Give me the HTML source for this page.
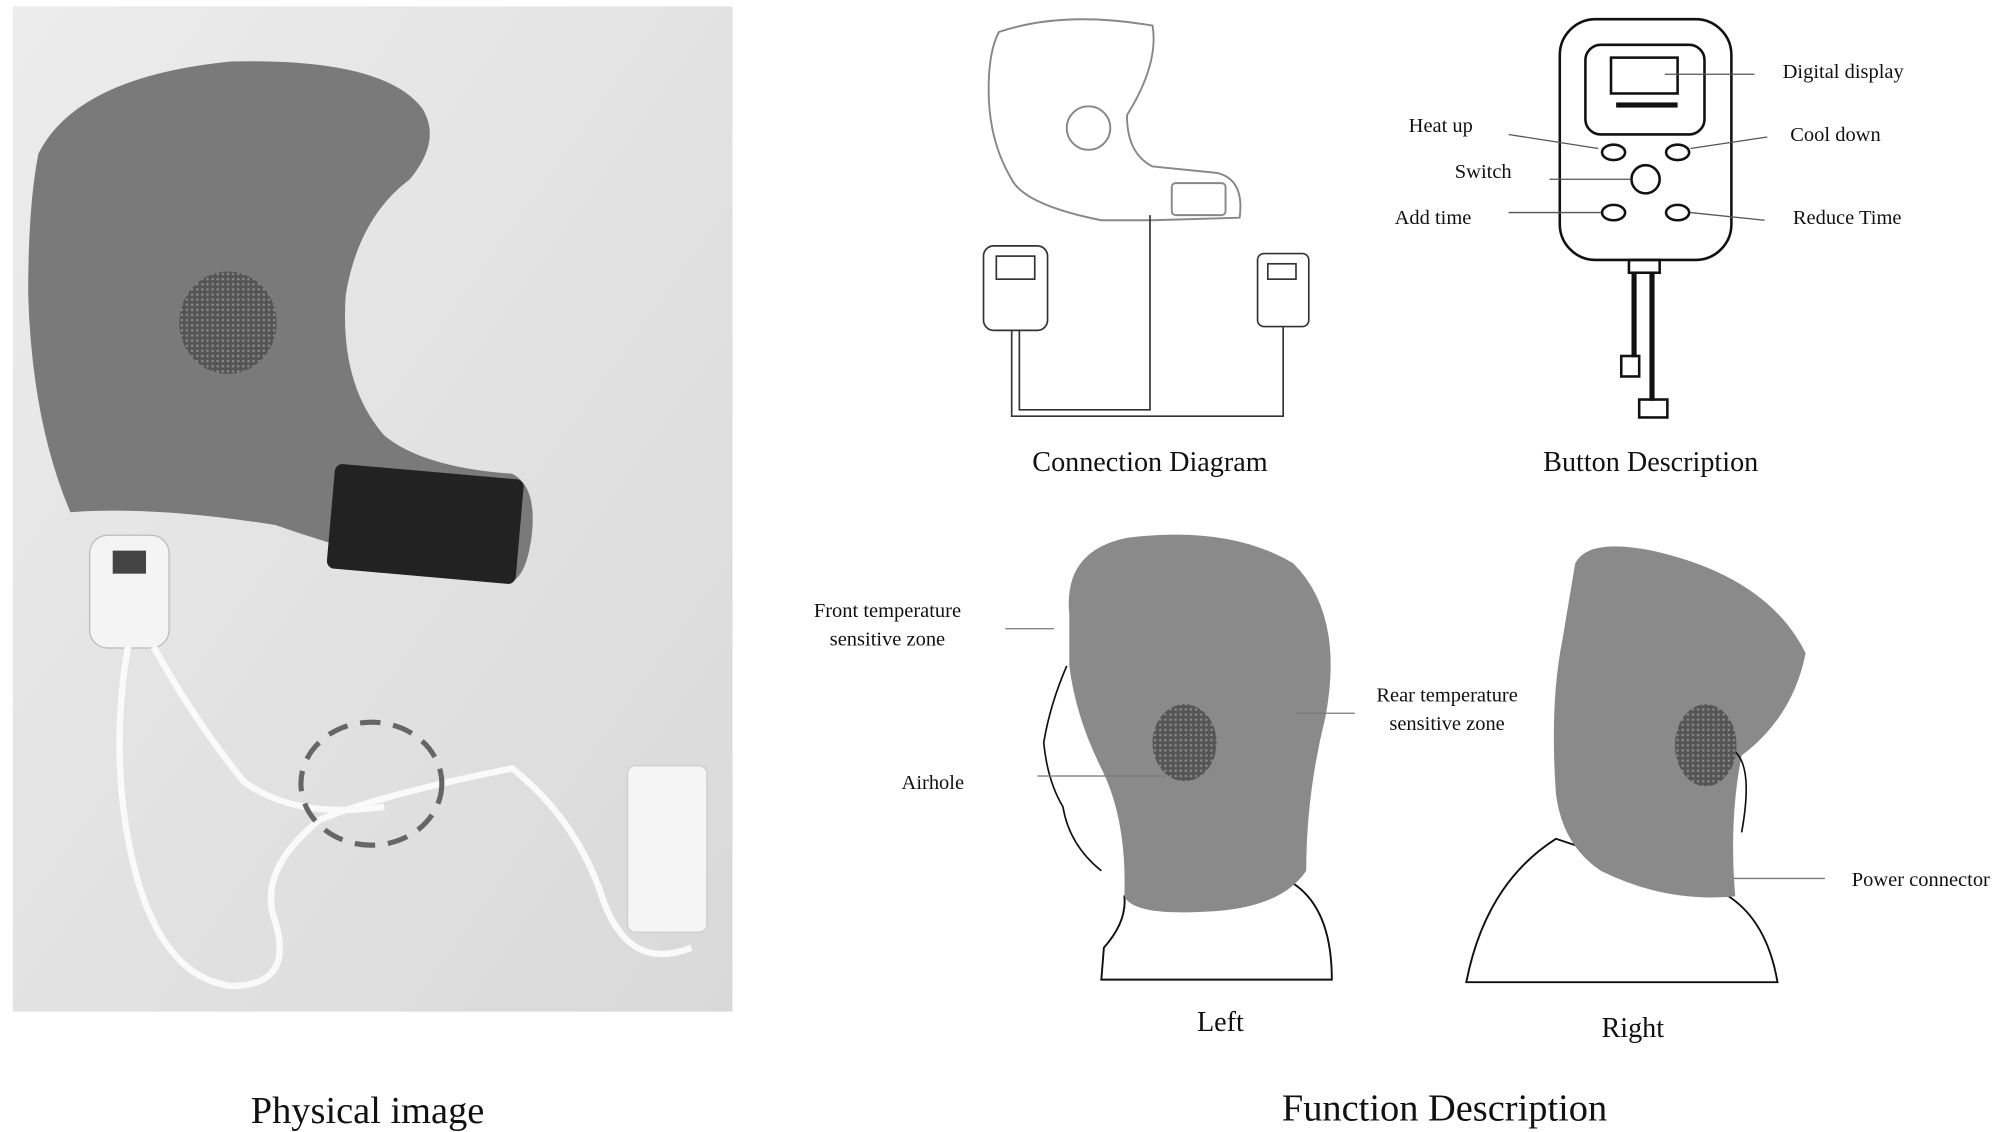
<!DOCTYPE html>
<html><head><meta charset="utf-8"><style>
html,body{margin:0;padding:0;background:#fff;}
svg{display:block}
text{font-family:"Liberation Serif",serif;fill:#111}
</style></head><body>
<svg width="2008" height="1132" viewBox="0 0 1568 884" preserveAspectRatio="none" xmlns="http://www.w3.org/2000/svg">
<defs>
<linearGradient id="bg" x1="0" y1="0" x2="1" y2="1"><stop offset="0" stop-color="#ececec"/><stop offset="1" stop-color="#d9d9d9"/></linearGradient>
<pattern id="mesh" width="4" height="4" patternUnits="userSpaceOnUse"><rect width="4" height="4" fill="#555"/><circle cx="2" cy="2" r="1" fill="#888"/></pattern>
</defs>
<!-- photo -->
<rect x="10" y="5" width="562" height="785" fill="url(#bg)"/>
<path d="M30,120 Q60,60 180,48 Q300,45 330,85 Q345,110 320,140 Q280,170 270,230 Q265,300 300,340 Q330,365 400,370 Q420,380 415,420 Q410,455 395,455 Q300,440 215,410 Q120,395 55,400 Q25,330 22,230 Q22,160 30,120Z" fill="#7a7a7a"/>
<ellipse cx="178" cy="252" rx="38" ry="40" fill="url(#mesh)"/>
<rect x="258" y="368" width="148" height="82" rx="6" fill="#222" transform="rotate(5 330 410)"/>
<rect x="70" y="418" width="62" height="88" rx="14" fill="#f4f4f4" stroke="#bbb"/>
<rect x="88" y="430" width="26" height="18" fill="#444"/>
<path d="M100,505 Q90,560 95,620 Q110,760 180,770 Q230,770 215,720 Q200,680 250,640 Q300,620 400,600 Q450,640 470,700 Q490,760 540,740" fill="none" stroke="#fafafa" stroke-width="5"/>
<path d="M120,505 Q150,560 190,610 Q230,640 300,630" fill="none" stroke="#fafafa" stroke-width="5"/>
<ellipse cx="290" cy="612" rx="55" ry="48" fill="none" stroke="#666" stroke-width="4" stroke-dasharray="16 10"/>
<rect x="490" y="598" width="62" height="130" rx="6" fill="#f5f5f5" stroke="#ccc"/>
<text x="287" y="877" font-size="30" text-anchor="middle">Physical image</text>
<!-- connection diagram -->
<g fill="none" stroke="#888" stroke-width="1.5">
<path d="M780,25 Q830,8 900,20 Q905,50 880,90 Q880,120 900,130 L950,135 Q972,140 968,170 L900,172 L860,172 Q800,160 790,140 Q772,110 772,70 Q772,40 780,25Z"/>
<circle cx="850" cy="100" r="17"/>
<rect x="915" y="143" width="42" height="25" rx="3"/>
</g>
<g fill="none" stroke="#333" stroke-width="1.3">
<rect x="768" y="192" width="50" height="66" rx="8"/>
<rect x="778" y="200" width="30" height="18"/>
<rect x="982" y="198" width="40" height="57" rx="5"/>
<rect x="990" y="206" width="22" height="12"/>
<path d="M790,258 L790,325 L1002,325 L1002,255 M796,258 L796,320 L898,320 L898,168"/>
</g>
<text x="898" y="368" font-size="22" text-anchor="middle">Connection Diagram</text>
<!-- button description -->
<g fill="none" stroke="#111" stroke-width="2">
<rect x="1218" y="15" width="134" height="188" rx="28"/>
<rect x="1238" y="35" width="93" height="70" rx="12"/>
<rect x="1258" y="45" width="52" height="28"/>
<ellipse cx="1260" cy="119" rx="9" ry="6"/><ellipse cx="1310" cy="119" rx="9" ry="6"/>
<circle cx="1285" cy="140" r="11"/>
<ellipse cx="1260" cy="166" rx="9" ry="6"/><ellipse cx="1310" cy="166" rx="9" ry="6"/>
<rect x="1272" y="203" width="24" height="10"/>
<rect x="1266" y="278" width="14" height="16"/><rect x="1280" y="312" width="22" height="14"/>
</g>
<rect x="1262" y="80" width="48" height="4" fill="#111"/>
<rect x="1274" y="213" width="4" height="66" fill="#111"/><rect x="1288" y="213" width="4" height="100" fill="#111"/>
<g stroke="#555" stroke-width="1"><line x1="1300" y1="58" x2="1370" y2="58"/><line x1="1178" y1="105" x2="1248" y2="116"/><line x1="1320" y1="116" x2="1380" y2="107"/><line x1="1210" y1="140" x2="1273" y2="140"/><line x1="1178" y1="166" x2="1250" y2="166"/><line x1="1320" y1="166" x2="1378" y2="172"/></g>
<g font-size="16"><text x="1392" y="61">Digital display</text><text x="1100" y="103">Heat up</text><text x="1398" y="110">Cool down</text><text x="1136" y="139">Switch</text><text x="1089" y="175">Add time</text><text x="1400" y="175">Reduce Time</text></g>
<text x="1289" y="368" font-size="22" text-anchor="middle">Button Description</text>
<!-- left head -->
<path d="M860,765 L862,740 Q880,720 878,700 L1010,690 Q1040,710 1040,765Z" fill="#fff" stroke="#111" stroke-width="1.5"/>
<path d="M835,480 Q830,430 880,420 Q960,410 1010,440 Q1050,480 1035,560 Q1020,620 1020,680 Q1000,710 940,712 Q885,715 878,700 Q880,640 860,600 Q840,560 835,520Z" fill="#8a8a8a"/>
<path d="M833,520 Q820,550 815,580 Q818,610 830,630 Q835,660 860,680" fill="none" stroke="#111" stroke-width="1.3"/>
<ellipse cx="925" cy="580" rx="25" ry="30" fill="url(#mesh)"/>
<g stroke="#777" stroke-width="1"><line x1="785" y1="491" x2="823" y2="491"/><line x1="1012" y1="557" x2="1058" y2="557"/><line x1="810" y1="606" x2="910" y2="606"/><line x1="1350" y1="686" x2="1425" y2="686"/></g>
<g font-size="16"><text x="693" y="482" text-anchor="middle">Front temperature</text><text x="693" y="504" text-anchor="middle">sensitive zone</text><text x="1130" y="548" text-anchor="middle">Rear temperature</text><text x="1130" y="570" text-anchor="middle">sensitive zone</text><text x="704" y="616">Airhole</text><text x="1446" y="692">Power connector</text></g>
<text x="953" y="805" font-size="22" text-anchor="middle">Left</text>
<!-- right head -->
<path d="M1145,767 Q1160,690 1215,655 L1350,700 Q1380,720 1388,767Z" fill="#fff" stroke="#111" stroke-width="1.5"/>
<path d="M1230,440 Q1240,420 1290,430 Q1380,450 1410,510 Q1400,560 1360,590 Q1350,640 1355,700 Q1300,705 1250,680 Q1220,660 1215,620 Q1210,550 1220,500Z" fill="#8a8a8a"/>
<path d="M1352,585 Q1370,595 1360,650" fill="none" stroke="#111" stroke-width="1.3"/>
<ellipse cx="1332" cy="582" rx="24" ry="32" fill="url(#mesh)"/>
<text x="1275" y="810" font-size="22" text-anchor="middle">Right</text>
<text x="1128" y="875" font-size="30" text-anchor="middle">Function Description</text>
</svg>
</body></html>
